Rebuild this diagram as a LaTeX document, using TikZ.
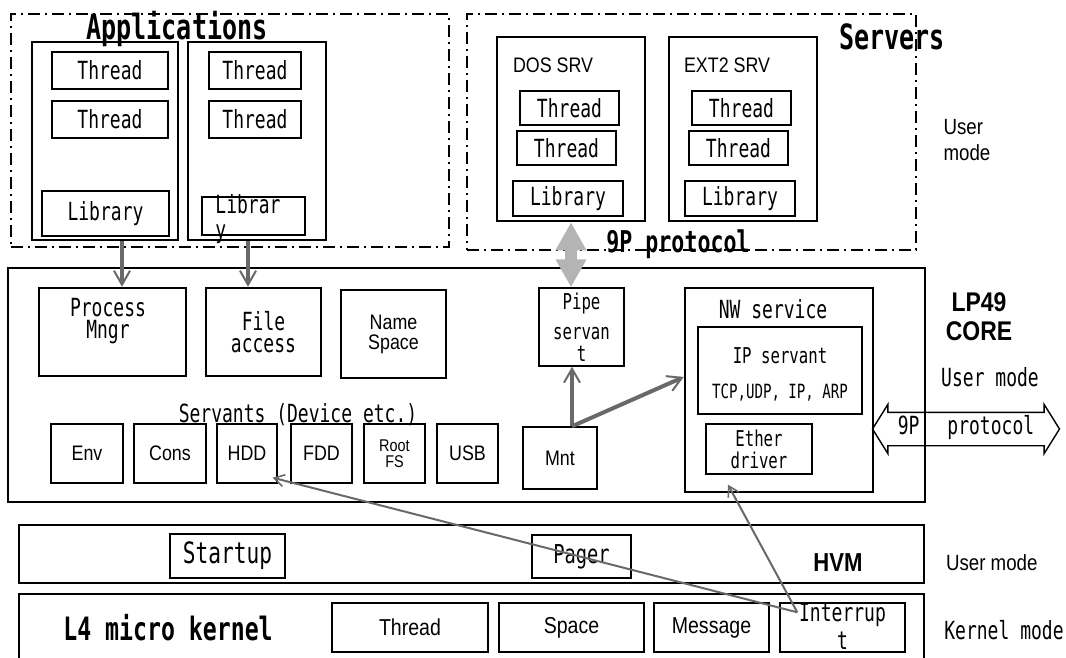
\documentclass[tikz,border=0pt]{standalone}
\usepackage{fontspec}
\setmainfont{DejaVu Sans Mono}[FakeStretch=0.72]
\newfontfamily\narrowfont{Liberation Sans}[FakeStretch=0.85]
\usetikzlibrary{calc, positioning, arrows.meta, shapes.arrows}
\definecolor{arrowgray}{RGB}{105,105,105}
\definecolor{pipegray}{RGB}{180,180,180}
\tikzset{
  box/.style={draw, line width=0.7pt, inner sep=0pt, align=center},
  bigbox/.style={draw, line width=1.3pt, inner sep=0pt, align=center},
  dashframe/.style={draw, line width=0.6pt, dash pattern=on 6pt off 2.5pt on 1pt off 2.5pt},
  mono/.style={font=\fontsize{12.5pt}{11pt}\selectfont, align=center},
  monosmall/.style={font=\fontsize{10.9pt}{11pt}\selectfont, align=center},
  narrow/.style={font=\narrowfont\fontsize{10.5pt}{11pt}\selectfont, align=center},
  headline/.style={font=\bfseries\fontsize{17.4pt}{18pt}\selectfont},
  fat/.style={draw=arrowgray, line width=2pt, -{Straight Barb[length=7pt, width=8pt, line width=1pt]}},
  irqline/.style={draw=arrowgray, line width=1pt, -{Straight Barb[length=5pt, width=6pt, line width=0.8pt]}},
  ninep/.style={draw=pipegray, line width=6pt, {Triangle[width=14.5pt, length=14pt]}-{Triangle[width=14.5pt, length=14pt]}},
}

\begin{document}
\begin{tikzpicture}[x=0.5pt, y=-0.5pt]
    \useasboundingbox (0,0) rectangle (1066,658);

    % Applications
    \node (apps)      [dashframe, minimum width=219pt, minimum height=116.5pt] at (230,130.5) {};
    \node (appstitle) [headline] at (177,29) {Applications};
    \node (app1)  [bigbox, minimum width=73pt, minimum height=99pt] at (105,141) {};
    \node (a1t1)  [box, mono, minimum width=58pt, minimum height=18.5pt] at (110,70.5) {Thread};
    \node (a1t2)  [box, mono, minimum width=58pt, minimum height=18.5pt] at (110,119.5) {Thread};
    \node (a1lib) [box, mono, minimum width=63.5pt, minimum height=22.5pt] at (105.5,213.5) {Library};
    \node (app2)  [bigbox, minimum width=69pt, minimum height=99pt] at (257,141) {};
    \node (a2t1)  [box, mono, minimum width=46pt, minimum height=18.5pt] at (255,70.5) {Thread};
    \node (a2t2)  [box, mono, minimum width=46pt, minimum height=18.5pt] at (255,119.5) {Thread};
    \node (a2lib) [box, minimum width=51.5pt, minimum height=19pt] at (253.5,216) {};
    \node (a2libtxt) [mono, align=left, font=\fontsize{12.5pt}{12.5pt}\selectfont] at (248,219) {Librar\\y};

    % Servers
    \node (servers)      [dashframe, minimum width=224.5pt, minimum height=118pt] at (691.5,132) {};
    \node (serverstitle) [headline] at (892,37) {Servers};
    \node (dos)     [bigbox, minimum width=74pt, minimum height=92pt] at (571,129) {};
    \node (dosname) [narrow, anchor=west] at (506,65) {DOS SRV};
    \node (dt1)     [box, mono, minimum width=49.5pt, minimum height=17pt] at (569.5,108) {Thread};
    \node (dt2)     [box, mono, minimum width=49.5pt, minimum height=17pt] at (566.5,148) {Thread};
    \node (dlib)    [box, mono, minimum width=55pt, minimum height=17.5pt] at (568,198.5) {Library};
    \node (ext)     [bigbox, minimum width=74pt, minimum height=92pt] at (743,129) {};
    \node (extname) [narrow, anchor=west] at (677,65) {EXT2 SRV};
    \node (et1)     [box, mono, minimum width=49.5pt, minimum height=17pt] at (741.5,108) {Thread};
    \node (et2)     [box, mono, minimum width=49.5pt, minimum height=17pt] at (738.5,148) {Thread};
    \node (elib)    [box, mono, minimum width=55pt, minimum height=17.5pt] at (740,198.5) {Library};
    \node (usermode1) [narrow, align=left, font=\narrowfont\fontsize{11pt}{13pt}\selectfont] at (967,140) {User\\mode};
    \node (ninetitle) [font=\bfseries\fontsize{15pt}{15pt}\selectfont] at (678,244) {9P protocol};

    % LP49 core
    \node (core)     [bigbox, minimum width=458.5pt, minimum height=117pt] at (466.5,385) {};
    \node (procm)    [bigbox, minimum width=73.5pt, minimum height=44pt] at (112.5,332) {};
    \node (procmtxt) [mono] at (108,321) {Process\\Mngr};
    \node (fileacc)  [bigbox, mono, minimum width=57.5pt, minimum height=44pt] at (263.5,332) {File\\access};
    \node (namesp)   [bigbox, narrow, minimum width=52.5pt, minimum height=44pt] at (393.5,334) {Name\\[-1pt]Space};
    \node (servlbl)  [mono] at (298,415) {Servants (Device etc.)};
    \node (env)    [box, narrow, minimum width=36pt, minimum height=29.5pt] at (87,453.5) {Env};
    \node (cons)   [box, narrow, minimum width=36pt, minimum height=29.5pt] at (170,453.5) {Cons};
    \node (hdd)    [box, narrow, minimum width=30pt, minimum height=29.5pt] at (247,453.5) {HDD};
    \node (fdd)    [box, narrow, minimum width=30.5pt, minimum height=29.5pt] at (321.5,453.5) {FDD};
    \node (rootfs) [box, narrow, font=\narrowfont\fontsize{8.5pt}{8pt}\selectfont, minimum width=30.5pt, minimum height=29.5pt] at (394.5,453.5) {Root\\FS};
    \node (usb)    [box, narrow, minimum width=30.5pt, minimum height=29.5pt] at (467.5,453.5) {USB};
    \node (pipe)   [box, font=\fontsize{10.9pt}{12pt}\selectfont, minimum width=42.5pt, minimum height=39pt] at (581.5,327) {Pipe\\[3pt]servan\\[-1pt]t};
    \node (mnt)    [box, narrow, minimum width=37pt, minimum height=31pt] at (560,458) {Mnt};
    \node (nw)     [bigbox, minimum width=94pt, minimum height=102pt] at (779,390) {};
    \node (nwtxt)  [mono] at (773,309) {NW service};
    \node (ip)     [box, minimum width=82pt, minimum height=43.5pt] at (780,370.5) {};
    \node (iptxt)  [monosmall] at (780,356) {IP servant};
    \node (tcptxt) [font=\fontsize{9.8pt}{10pt}\selectfont] at (780,393) {TCP,UDP, IP, ARP};
    \node (ether)  [box, monosmall, minimum width=53pt, minimum height=25pt] at (759,449) {Ether\\driver};
    \node (coretitle) [font=\narrowfont\bfseries\fontsize{13.5pt}{14.5pt}\selectfont, align=center] at (979,317) {LP49\\CORE};
    \node (usermode2) [mono] at (990,377) {User mode};
    \node (proto) [draw, line width=0.7pt, double arrow, double arrow head extend=4pt,
                   double arrow tip angle=116, minimum height=93.5pt, inner xsep=0pt,
                   inner ysep=3.5pt, text height=7pt, text depth=2pt, mono] at (966,429) {9P\hspace{14pt}protocol};

    % HVM
    \node (hvm)       [bigbox, minimum width=452.5pt, minimum height=29pt] at (471.5,554) {};
    \node (startup)   [box, font=\fontsize{14.7pt}{14pt}\selectfont, minimum width=57.5pt, minimum height=22pt] at (227.5,556) {Startup};
    \node (pager)     [box, font=\fontsize{13pt}{13pt}\selectfont, minimum width=49.5pt, minimum height=21.5pt] at (581.5,556.5) {Pager};
    \node (hvmtitle)  [font=\narrowfont\bfseries\fontsize{13pt}{14pt}\selectfont] at (838,563) {HVM};
    \node (usermode3) [narrow, anchor=west, font=\narrowfont\fontsize{11pt}{12pt}\selectfont] at (939,563) {User mode};

    % L4
    \node (l4)      [bigbox, minimum width=452.5pt, minimum height=35.5pt] at (471.5,629.5) {};
    \node (l4title) [font=\bfseries\fontsize{16.1pt}{16pt}\selectfont] at (168,628) {L4 micro kernel};
    \node (kthread) [box, narrow, font=\narrowfont\fontsize{11.5pt}{12pt}\selectfont, minimum width=78pt, minimum height=24.5pt] at (410,627.5) {Thread};
    \node (kspace)  [box, narrow, font=\narrowfont\fontsize{11.5pt}{12pt}\selectfont, minimum width=72.5pt, minimum height=24.5pt] at (571.5,627.5) {Space};
    \node (kmsg)    [box, narrow, font=\narrowfont\fontsize{11.5pt}{12pt}\selectfont, minimum width=57.5pt, minimum height=24.5pt] at (711.5,627.5) {Message};
    \node (kint)    [box, minimum width=62.5pt, minimum height=24.5pt] at (842.5,627.5) {};
    \node (kinttxt) [mono, font=\fontsize{12.5pt}{14pt}\selectfont] at (842.5,626) {Interrup\\t};
    \node (kernelmode) [mono] at (1004,630) {Kernel mode};

    % Connectors
    \draw [fat] ($(app1.south)+(17,0)$) -- ($(procm.north)+(9.5,0)$);
    \draw [fat] ($(app2.south)+(-9,0)$) -- ($(fileacc.north)+(-15.5,0)$);
    \draw [ninep] (dos.south) -- (dos.south |- pipe.north);

    \coordinate (mntout) at ($(mnt.north)+(12,0)$);
    \draw [fat] (mntout) -- (mntout |- pipe.south);
    \draw [fat] (mntout) -- ($(nw.west)+(0,-13)$);

    \coordinate (irq) at ($(kint.north west)+(18,10)$);
    \draw [irqline] (irq) -- ($(hdd.south east)+(-5,-6)$);
    \draw [irqline] (irq) -- ($(ether.south)+(-31,10)$);

\end{tikzpicture}
\end{document}
